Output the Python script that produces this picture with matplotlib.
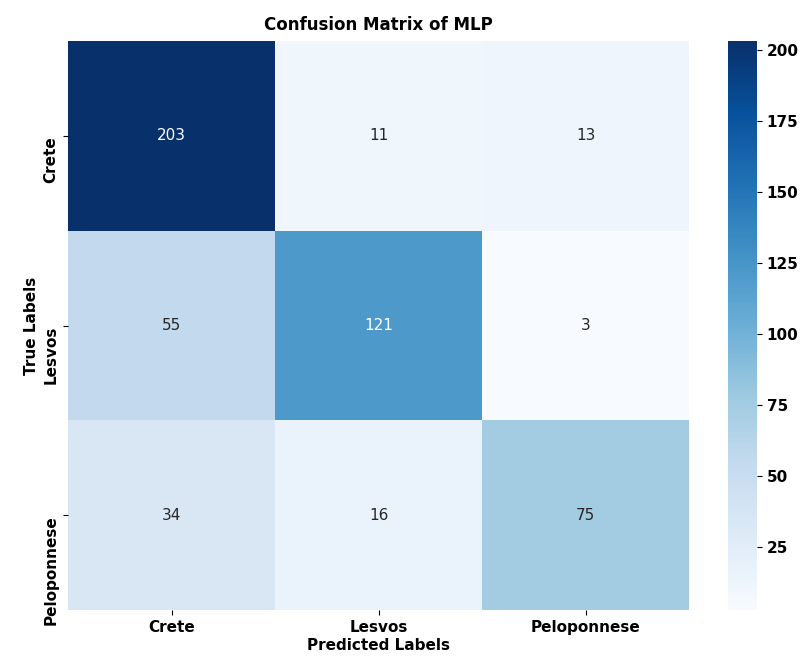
import numpy as np
import matplotlib
matplotlib.use("Agg")
import matplotlib.pyplot as plt
import seaborn as sns

# --- Confusion matrix data ---
class_names = ["Crete", "Lesvos", "Peloponnese"]
row_crete = [203, 11, 13]
row_lesvos = [55, 121, 3]
row_peloponnese = [34, 16, 75]
cm = np.array([row_crete, row_lesvos, row_peloponnese])

plt.rcParams['font.family'] = ['DejaVu Sans']
plt.rcParams['font.weight'] = 'bold'

fig = plt.figure(figsize=(8.05, 6.64), dpi=100)
ax = fig.add_axes([0.0845, 0.0813, 0.7714, 0.8569])
cax = fig.add_axes([0.9043, 0.0813, 0.036, 0.8569])

sns.heatmap(cm, annot=True, fmt="d", cmap="Blues", ax=ax, cbar_ax=cax,
            xticklabels=class_names, yticklabels=class_names,
            annot_kws={"fontsize": 11, "fontweight": "normal"})

# --- Formatting ---
ax.set_title("Confusion Matrix of MLP", fontsize=12, fontweight='bold', pad=8)
ax.set_xlabel("Predicted Labels", fontsize=11, fontweight='bold', labelpad=2)
ax.set_ylabel("True Labels", fontsize=11, fontweight='bold', labelpad=3)
ax.tick_params(axis='both', labelsize=11)
plt.setp(ax.get_yticklabels(), rotation=90, va='top', fontweight='bold')
plt.setp(ax.get_xticklabels(), fontweight='bold')
cax.tick_params(labelsize=11)
plt.setp(cax.get_yticklabels(), fontweight='bold')

fig.savefig("out.png", dpi=100)
